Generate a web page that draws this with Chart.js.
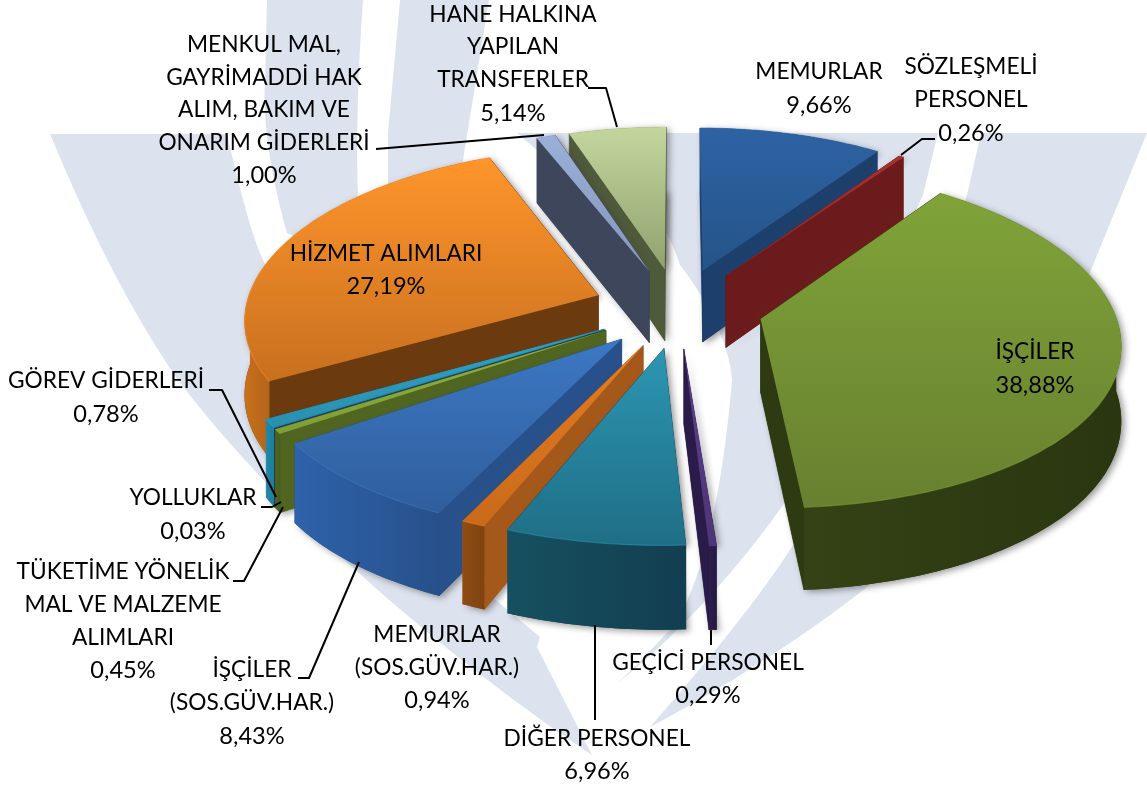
<!DOCTYPE html>
<html lang="tr"><head><meta charset="utf-8">
<style>html,body{margin:0;padding:0;background:#fff}canvas{display:block}</style>
<script src="https://cdn.jsdelivr.net/npm/chart.js@4"></script>
</head><body>
<canvas id="c" width="1147" height="789"></canvas>
<script>
const categories = ["MEMURLAR","SÖZLEŞMELİ PERSONEL","İŞÇİLER","GEÇİCİ PERSONEL","DİĞER PERSONEL","MEMURLAR (SOS.GÜV.HAR.)","İŞÇİLER (SOS.GÜV.HAR.)","TÜKETİME YÖNELİK MAL VE MALZEME ALIMLARI","YOLLUKLAR","GÖREV GİDERLERİ","HİZMET ALIMLARI","MENKUL MAL, GAYRİMADDİ HAK ALIM, BAKIM VE ONARIM GİDERLERİ","HANE HALKINA YAPILAN TRANSFERLER"];
const values = [9.66,0.26,38.88,0.29,6.96,0.94,8.43,0.45,0.03,0.78,27.19,1.00,5.14];
const valueLabels = ["9,66%","0,26%","38,88%","0,29%","6,96%","0,94%","8,43%","0,45%","0,03%","0,78%","27,19%","1,00%","5,14%"];

const topColors  = ["#2E62A3","#A83030","#80A339","#5F4090","#2C96B2","#E57C20","#3C78C4","#8FB23E","#2B5C94","#2FA3C8","#FF952B","#9AB0D8","#C2D69E"];
const topEnds    = ["#245488","#8E2626","#68802F","#4E3478","#1F6E86","#C96A1A","#2F5E9C","#7F9E36","#234C7C","#2890B0","#C8701F","#8496BC","#90A26E"];
const radialWalls= ["#1C3F6C","#6B1B1B","#2E3A12","#2A1B48","#14475A","#A4581A","#28508A","#4F6520","#1C3350","#2288A8","#6B3A0F","#3D465A","#4E5A39"];
const outerLight = ["#1C3F6C","#7A2020","#344215","#2E1E4E","#165060","#8E4C14","#2E62AA","#4F6520","#1C3350","#2288A8","#C8701C","#3D465A","#4E5A39"];
const outerDark  = ["#183660","#5E1717","#2A3610","#241840","#123E50","#7E4210","#27508A","#465A1C","#182C46","#1E7C98","#B5641A","#353E50","#454F32"];

const explode = 340;   // Chart.js divides arc offset by 4
const tilt = 0.47, persp = 0.109, perspX = 0.13, depth = 73;

const labelBlocks = [
 {i:0,x:819,y:[72,105],t:["MEMURLAR"]},
 {i:1,x:971,y:[67,100,133],t:["SÖZLEŞMELİ","PERSONEL"]},
 {i:2,x:1035,y:[352,385],t:["İŞÇİLER"]},
 {i:3,x:708,y:[663,695],t:["GEÇİCİ PERSONEL"]},
 {i:4,x:597,y:[739,771],t:["DİĞER PERSONEL"]},
 {i:5,x:437,y:[635,668,700],t:["MEMURLAR","(SOS.GÜV.HAR.)"]},
 {i:6,x:252,y:[670,703,736],t:["İŞÇİLER","(SOS.GÜV.HAR.)"]},
 {i:7,x:123,y:[572,605,638,670],t:["TÜKETİME YÖNELİK","MAL VE MALZEME","ALIMLARI"]},
 {i:8,x:193,y:[498,531],t:["YOLLUKLAR"]},
 {i:9,x:106,y:[381,414],t:["GÖREV GİDERLERİ"]},
 {i:10,x:386,y:[254,286],t:["HİZMET ALIMLARI"]},
 {i:11,x:264,y:[45,78,110,143,175],t:["MENKUL MAL,","GAYRİMADDİ HAK","ALIM, BAKIM VE","ONARIM GİDERLERİ"]},
 {i:12,x:513,y:[15,47,80,113],t:["HANE HALKINA","YAPILAN","TRANSFERLER"]}
];
const leaders = [
 [[588,88],[606,88],[617,127]],
 [[376,149],[544,135]],
 [[935,139],[922,139],[901,155]],
 [[209,390],[222,390],[276,497]],
 [[261,507],[272,507],[281,502]],
 [[233,581],[244,581],[283,507]],
 [[298,678],[309,678],[359,562]],
 [[595,625],[595,720]],
 [[711,630],[711,645]]
];
const watermark = [
 "M50,134 L227,134 C240,190 250,230 263,260 L400,520 L540,637 L537,647 L592,755 C480,680 300,540 178,380 C130,310 90,230 50,134 Z",
 "M267,0 L363,0 C358,70 356,140 358,193 L350,260 L287,233 C272,180 262,120 265,83 Z",
 "M400,0 L489,0 L463,160 L480,250 L388,200 L388,133 Z",
 "M517,133 L938,133 L923,195 L860,330 L783,505 C755,545 690,630 596,700 C625,680 650,650 672,628 C700,590 722,500 732,380 C730,340 700,290 680,265 C672,240 660,220 650,205 L560,170 Z",
 "M981,133 L1147,133 L1091,270 C1040,400 960,520 867,587 C800,640 720,690 650,727 C700,670 750,610 788,553 C860,440 930,330 967,195 Z"
];

function projector(el){
  const mid=(el.startAngle+el.endAngle)/2, off=(el.options.offset||0)/4, R=el.outerRadius;
  const ox=Math.cos(mid)*off, oy=Math.sin(mid)*off;
  return (r,a,z)=>{
    const dx=ox+r*Math.cos(a), dy=oy+r*Math.sin(a), f=1/(1-persp*dy/R), fx=1/(1-perspX*dy/R);
    return [el.x+dx*fx, el.y+tilt*dy*f+z*f];
  };
}
function poly(ctx,pts){ctx.beginPath();pts.forEach((p,i)=>i?ctx.lineTo(p[0],p[1]):ctx.moveTo(p[0],p[1]));ctx.closePath();}
function drawSlice(ctx,el,idx){
  const P=projector(el),R=el.outerRadius,a0=el.startAngle,a1=el.endAngle;
  const n=Math.max(2,Math.ceil((a1-a0)/(Math.PI/180)));
  const rim=[];for(let k=0;k<=n;k++)rim.push(a0+(a1-a0)*k/n);
  const top=[P(0,a0,0)].concat(rim.map(a=>P(R,a,0)));
  const bot=[P(0,a0,depth)].concat(rim.map(a=>P(R,a,depth)));
  // soft cast shadow from the silhouette
  ctx.save();
  ctx.shadowColor="rgba(60,60,60,.55)";ctx.shadowBlur=7;ctx.shadowOffsetX=3;ctx.shadowOffsetY=2;
  ctx.fillStyle=radialWalls[idx];
  poly(ctx,top);ctx.fill();poly(ctx,bot);ctx.fill();
  ctx.restore();
  // radial walls
  const wall=(a)=>[P(0,a,0),P(R,a,0),P(R,a,depth),P(0,a,depth)];
  const walls=[wall(a0),wall(a1)].sort((u,v)=>u[1][1]-v[1][1]);
  ctx.fillStyle=radialWalls[idx];
  walls.forEach(w=>{poly(ctx,w);ctx.fill();ctx.strokeStyle=radialWalls[idx];ctx.lineWidth=.5;ctx.stroke();});
  // outer curved wall (one contiguous front-facing run of the rim)
  const front=rim.filter(a=>Math.sin(a)>-0.02);
  if(front.length>1){
    const xs=front.map(a=>P(R,a,0)[0]);
    const g=ctx.createLinearGradient(Math.min(...xs),0,Math.max(...xs)+1,0);
    g.addColorStop(0,outerLight[idx]);g.addColorStop(1,outerDark[idx]);
    ctx.fillStyle=g;
    poly(ctx,front.map(a=>P(R,a,0)).concat(front.slice().reverse().map(a=>P(R,a,depth))));ctx.fill();
  }
  // top face
  const ys=top.map(p=>p[1]);
  const tg=ctx.createLinearGradient(0,Math.min(...ys),0,Math.max(...ys));
  tg.addColorStop(0,topColors[idx]);tg.addColorStop(1,topEnds[idx]);
  ctx.fillStyle=tg;poly(ctx,top);ctx.fill();
  // bevel highlight along the rim
  ctx.save();ctx.globalAlpha=.55;ctx.strokeStyle=topColors[idx];ctx.lineWidth=1.2;
  ctx.beginPath();rim.forEach((a,k)=>{const p=P(R,a,0);k?ctx.lineTo(p[0],p[1]):ctx.moveTo(p[0],p[1]);});ctx.stroke();ctx.restore();
}
const pie3d={
  id:"pie3d",
  beforeDraw(chart){
    const ctx=chart.ctx;ctx.save();ctx.fillStyle="#DCE2EE";
    watermark.forEach(d=>ctx.fill(new Path2D(d)));ctx.restore();
  },
  beforeDatasetDraw(chart,args){
    const ctx=chart.ctx,arcs=args.meta.data;
    const order=arcs.map((el,i)=>i).sort((p,q)=>{
      const s=e=>Math.sin((e.startAngle+e.endAngle)/2);return s(arcs[p])-s(arcs[q]);});
    order.forEach(i=>drawSlice(ctx,arcs[i],i));
    return false;
  },
  afterDraw(chart){
    const ctx=chart.ctx;ctx.save();
    ctx.strokeStyle="#000";ctx.lineWidth=2;ctx.lineJoin="round";
    leaders.forEach(l=>{ctx.beginPath();l.forEach((p,i)=>i?ctx.lineTo(p[0],p[1]):ctx.moveTo(p[0],p[1]));ctx.stroke();});
    ctx.fillStyle="#000";ctx.textAlign="center";ctx.textBaseline="middle";
    labelBlocks.forEach(b=>{
      ctx.font="22.7px Lato";
      b.t.forEach((s,k)=>ctx.fillText(s,b.x,b.y[k]));
      ctx.font="23.6px Lato";
      ctx.fillText(valueLabels[b.i],b.x,b.y[b.t.length]);
    });
    ctx.restore();
  }
};
new Chart(document.getElementById("c"),{
  type:"pie",
  data:{labels:categories,datasets:[{data:values,backgroundColor:topColors,offset:explode,borderWidth:0}]},
  options:{
    responsive:false,animation:false,events:[],radius:353,
    layout:{padding:{left:209,bottom:173,top:0,right:0}},
    plugins:{legend:{display:false},tooltip:{enabled:false}}
  },
  plugins:[pie3d]
});
</script>
</body></html>
